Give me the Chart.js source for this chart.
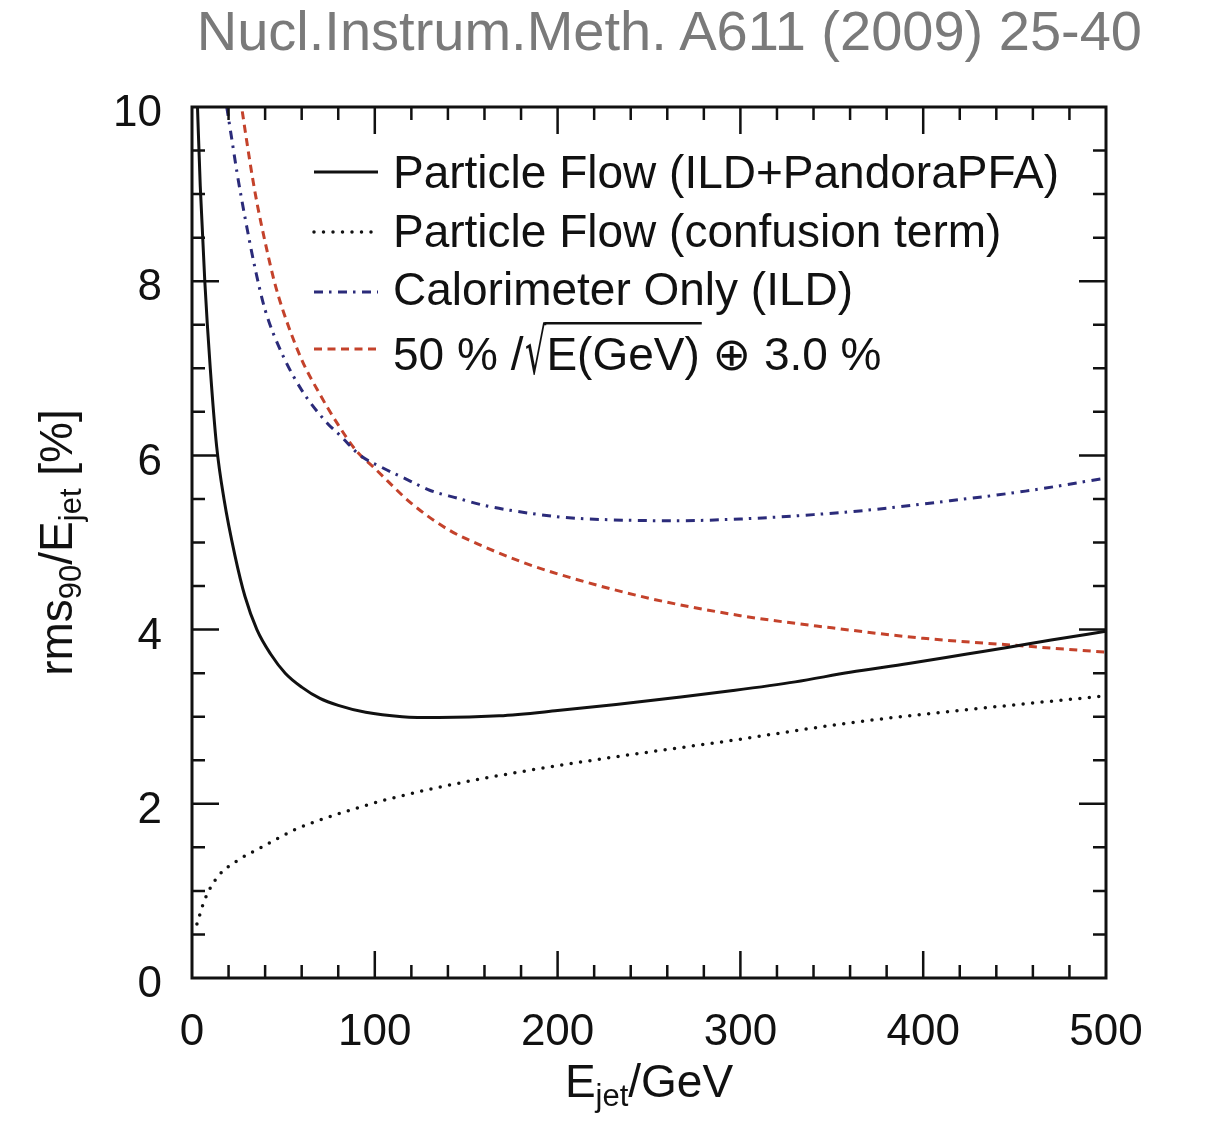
<!DOCTYPE html>
<html>
<head>
<meta charset="utf-8">
<script src="https://cdn.jsdelivr.net/npm/chart.js@4.4.1/dist/chart.umd.min.js"></script>
<style>
html, body { margin: 0; padding: 0; background: #fff; }
#wrap { position: relative; width: 1231px; height: 1124px; }
#wrap canvas { position: absolute; left: 0; top: 0; }
#ref { position: absolute; right: 89px; top: 3px; font: 56px 'Liberation Sans', Arial, sans-serif; line-height: 56px; color: #7a7a7a; white-space: nowrap; }
</style>
</head>
<body>
<div id="wrap">
  <canvas id="res" width="1231" height="1124"></canvas>
  <div id="ref">Nucl.Instrum.Meth. A611 (2009) 25-40</div>
</div>
<script>
// values (E in GeV, resolution in %)
const pfaE   = [3, 4.5, 7, 10, 13.5, 17.5, 23.5, 29, 35.5, 43, 51, 60, 70, 80, 95, 115, 135, 168, 200, 232, 265, 296, 330, 360, 392, 424, 446, 470, 500];
const pfaRes = [10, 9.1, 8.0, 7.0, 6.1, 5.5, 4.85, 4.38, 4.0, 3.72, 3.5, 3.34, 3.21, 3.13, 3.05, 3.0, 2.99, 3.01, 3.07, 3.14, 3.22, 3.30, 3.40, 3.51, 3.61, 3.72, 3.795, 3.88, 3.98];

const confE   = [2.7, 7, 14, 25, 38, 56, 78, 105, 142, 186, 232, 296, 360, 424, 500];
const confRes = [0.62, 0.9, 1.16, 1.35, 1.5, 1.7, 1.87, 2.04, 2.22, 2.39, 2.54, 2.73, 2.93, 3.08, 3.24];

const caloE   = [19, 22, 25, 30, 35, 40, 49, 60, 74, 81, 92, 105, 118, 130, 145, 159, 174, 203, 230, 264, 300, 340, 369, 411, 456, 500];
const caloRes = [10, 9.6, 9.2, 8.62, 8.1, 7.67, 7.18, 6.75, 6.37, 6.23, 6.0, 5.85, 5.72, 5.6, 5.51, 5.43, 5.37, 5.29, 5.26, 5.25, 5.27, 5.32, 5.37, 5.47, 5.59, 5.74];

const parE   = [27.5, 30, 33, 36, 40, 45, 50, 60, 70, 80, 90, 100, 120, 140, 160, 180, 200, 250, 300, 350, 400, 450, 500];
const parRes = [9.95, 9.6, 9.2, 8.85, 8.45, 8.0, 7.65, 7.1, 6.7, 6.35, 6.05, 5.85, 5.45, 5.15, 4.95, 4.78, 4.64, 4.36, 4.16, 4.02, 3.9, 3.82, 3.74];

const labels = ['Particle Flow (ILD+PandoraPFA)', 'Particle Flow (confusion term)', 'Calorimeter Only (ILD)', '50 % /\u221AE(GeV) \u2295 3.0 %'];

const FONT = "'Liberation Sans', Arial, 'DejaVu Sans', sans-serif";

function pts(xs, ys) {
  return xs.map((e, i) => ({x: e, y: ys[i]}));
}

function line(label, data, color, dash, cap, width) {
  return {
    label: label,
    data: data,
    borderColor: color,
    borderWidth: width,
    borderDash: dash,
    borderCapStyle: cap,
    pointRadius: 0,
    cubicInterpolationMode: 'monotone',
    fill: false
  };
}

// draws text parts [text, size, dy] starting at x on baseline y
function drawParts(ctx, parts, x, y) {
  parts.forEach(p => {
    ctx.font = p[1] + 'px ' + FONT;
    ctx.fillText(p[0], x, y + p[2]);
    x += ctx.measureText(p[0]).width;
  });
}
function partsWidth(ctx, parts) {
  let w = 0;
  parts.forEach(p => { ctx.font = p[1] + 'px ' + FONT; w += ctx.measureText(p[0]).width; });
  return w;
}

const frame = {
  id: 'frame',
  afterDatasetsDraw(chart) {
    const ctx = chart.ctx;
    const a = chart.chartArea;
    const x = chart.scales.x, y = chart.scales.y;
    ctx.save();

    // inward ticks on all four sides
    ctx.strokeStyle = '#111';
    ctx.lineWidth = 2.5;
    ctx.beginPath();
    for (let e = 20; e < 500; e += 20) {
      const px = x.getPixelForValue(e);
      const len = e % 100 === 0 ? 27 : 13;
      ctx.moveTo(px, a.bottom); ctx.lineTo(px, a.bottom - len);
      ctx.moveTo(px, a.top); ctx.lineTo(px, a.top + len);
    }
    for (let k = 1; k < 20; k++) {
      const py = y.getPixelForValue(k * 0.5);
      const len = k % 4 === 0 ? 27 : 13;
      ctx.moveTo(a.left, py); ctx.lineTo(a.left + len, py);
      ctx.moveTo(a.right, py); ctx.lineTo(a.right - len, py);
    }
    ctx.stroke();
    ctx.lineWidth = 3;
    ctx.strokeRect(a.left, a.top, a.right - a.left, a.bottom - a.top);

    // legend
    const rows = [172, 232, 292, 349];
    const bases = [188, 247, 305, 370];
    ctx.fillStyle = '#111';
    ctx.textBaseline = 'alphabetic';
    chart.data.datasets.forEach((ds, i) => {
      const ly = rows[i];
      ctx.save();
      ctx.strokeStyle = ds.borderColor;
      ctx.lineWidth = ds.borderWidth;
      ctx.lineCap = ds.borderCapStyle;
      ctx.setLineDash(ds.borderDash);
      ctx.beginPath();
      ctx.moveTo(314, ly); ctx.lineTo(378, ly);
      ctx.stroke();
      ctx.restore();

      ctx.font = '46px ' + FONT;
      const base = bases[i];
      const txt = ds.label;
      const r = txt.indexOf('\u221A');
      if (r < 0) {
        ctx.fillText(txt, 393, base);
      } else {
        const close = txt.indexOf(')', r);
        const pre = txt.slice(0, r);
        const under = txt.slice(r + 1, close + 1);
        const post = txt.slice(close + 1);
        ctx.fillText(pre, 393, base);
        let cx = 393 + ctx.measureText(pre).width + 2;
        // radical sign: tall and narrow, from overline to below baseline
        const top = base - 48;
        ctx.font = "100px 'DejaVu Sans', sans-serif";
        const m = ctx.measureText('\u221A');
        const h100 = m.actualBoundingBoxAscent + m.actualBoundingBoxDescent;
        const sz = 54 / h100 * 100;
        ctx.font = sz + "px 'DejaVu Sans', sans-serif";
        const m2 = ctx.measureText('\u221A');
        const gw = m2.actualBoundingBoxLeft + m2.actualBoundingBoxRight;
        const sx = 21 / gw;
        ctx.save();
        ctx.translate(cx, top + m2.actualBoundingBoxAscent);
        ctx.scale(sx, 1);
        ctx.fillText('\u221A', m2.actualBoundingBoxLeft, 0);
        ctx.restore();
        const rEnd = cx + 21;
        cx = rEnd;
        ctx.font = '46px ' + FONT;
        ctx.fillText(under, cx, base);
        const x1 = cx + ctx.measureText(under).width;
        ctx.fillText(post, x1, base);
        ctx.strokeStyle = '#111';
        ctx.lineWidth = 2.5;
        ctx.beginPath();
        ctx.moveTo(rEnd - 2, top + 1.2);
        ctx.lineTo(x1 + 2, top + 1.2);
        ctx.stroke();
      }
    });

    // axis titles
    const xt = [['E', 46, 0], ['jet', 31, 9], ['/GeV', 46, 0]];
    drawParts(ctx, xt, (a.left + a.right) / 2 - partsWidth(ctx, xt) / 2, 1097);

    const yt = [['rms', 46, 0], ['90', 31, 9], ['/E', 46, 0], ['jet', 31, 9], [' [%]', 46, 0]];
    ctx.translate(72, (a.top + a.bottom) / 2);
    ctx.rotate(-Math.PI / 2);
    drawParts(ctx, yt, -partsWidth(ctx, yt) / 2, 0);

    ctx.restore();
  }
};

new Chart(document.getElementById('res'), {
  type: 'line',
  data: {
    datasets: [
      line(labels[0], pts(pfaE, pfaRes), '#111111', [], 'butt', 3),
      line(labels[1], pts(confE, confRes), '#111111', [0, 9.5], 'round', 3.5),
      line(labels[2], pts(caloE, caloRes), '#2b2b7a', [9, 6, 2.5, 6.5], 'butt', 3),
      line(labels[3], pts(parE, parRes), '#c4422b', [8, 5.5], 'butt', 3)
    ]
  },
  options: {
    responsive: false,
    animation: false,
    layout: { padding: { top: 107, right: 125, bottom: 0, left: 0 } },
    scales: {
      x: {
        type: 'linear',
        min: 0,
        max: 500,
        grid: { display: false, drawTicks: false },
        border: { display: false },
        ticks: { stepSize: 100, padding: 28, color: '#111', font: { family: FONT, size: 44 }, maxRotation: 0 },
        afterFit: s => { s.height = 146; }
      },
      y: {
        min: 0,
        max: 10,
        grid: { display: false, drawTicks: false },
        border: { display: false },
        ticks: { stepSize: 2, padding: 30, labelOffset: 7, color: '#111', font: { family: FONT, size: 44 } },
        afterFit: s => { s.width = 192; }
      }
    },
    plugins: {
      legend: { display: false },
      tooltip: { enabled: false }
    }
  },
  plugins: [frame]
});
</script>
</body>
</html>
